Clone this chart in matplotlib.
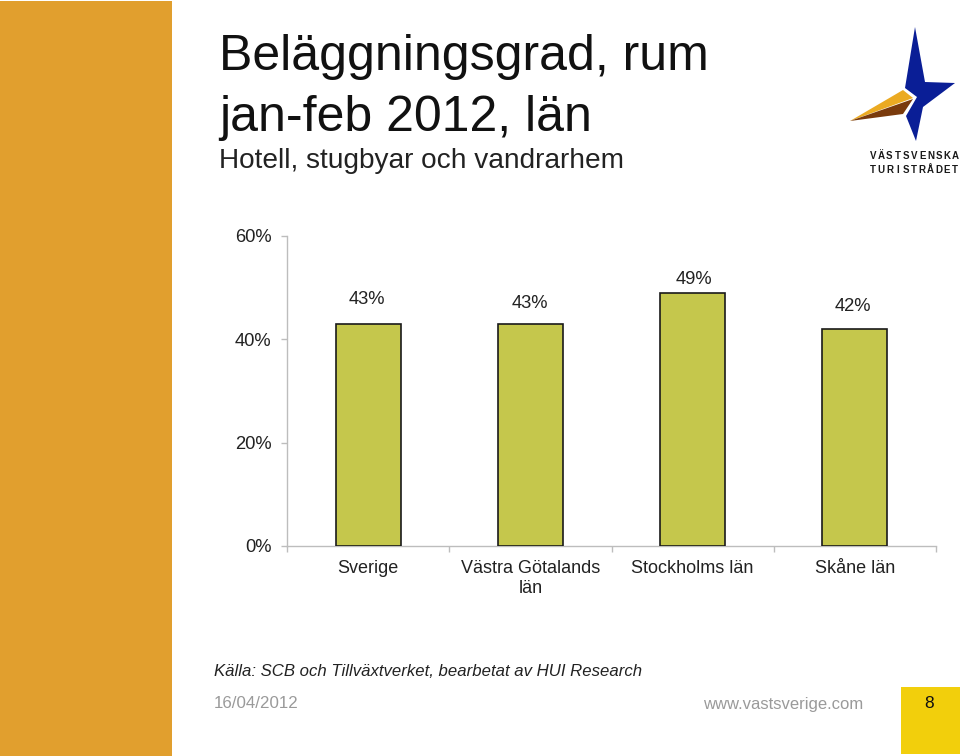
import matplotlib
matplotlib.use("Agg")
import matplotlib.pyplot as plt
from matplotlib.patches import Polygon, Rectangle

plt.rcParams['font.family'] = ['Liberation Sans', 'DejaVu Sans']

categories = ["Sverige", "Västra Götalands\nlän", "Stockholms län", "Skåne län"]
values = [43, 43, 49, 42]
value_labels = ["43%", "43%", "49%", "42%"]
y_ticks = [0, 20, 40, 60]
y_tick_labels = ["0%", "20%", "40%", "60%"]
label_offsets = [(-1, 23.3), (-0.6, 21.1), (0.8, 16), (-1.3, 22.6)]

W, H = 960, 756
fig = plt.figure(figsize=(W / 100, H / 100), dpi=100, facecolor="white")

# full-figure pixel canvas for the slide decoration
bg = fig.add_axes([0, 0, 1, 1], zorder=0)
bg.set_xlim(0, W)
bg.set_ylim(H, 0)
bg.axis("off")
bg.add_patch(Rectangle((0, 1), 172, 755, color="#E19F2E", lw=0))
bg.add_patch(Rectangle((901, 687), 59, 67, color="#F2CF0C", lw=0))

# logo
bg.add_patch(Polygon([(915, 27), (925, 82), (955, 83), (923, 107), (916, 141), (906, 116),
                      (917, 97), (905, 88)], closed=True, color="#0A1E96", lw=0))
bg.add_patch(Polygon([(850, 121), (903, 90), (913, 98)], closed=True, color="#EBAA22", lw=0))
bg.add_patch(Polygon([(850, 121), (913, 99), (903, 114)], closed=True, color="#7A3A0C", lw=0))
for word, y in (("VÄSTSVENSKA", 156), ("TURISTRÅDET", 170)):
    step = 82 / (len(word) - 1)
    for k, ch in enumerate(word):
        bg.text(873 + k * step, y, ch, fontsize=7, fontweight="bold", va="center", ha="center",
                color="#1A1A1A")

# titles
bg.text(219, 57, "Beläggningsgrad, rum", fontsize=36, va="center", ha="left", color="#111111")
bg.text(219, 118, "jan-feb 2012, län", fontsize=36, va="center", ha="left", color="#111111")
bg.text(219, 161, "Hotell, stugbyar och vandrarhem", fontsize=20.15, va="center", ha="left", color="#222222")

# chart
ax = fig.add_axes([287 / W, 1 - 546 / H, (936 - 287) / W, (546 - 236) / H], zorder=1)
ax.patch.set_alpha(0)
x = range(len(categories))
ax.bar(x, values, width=0.4, color="#C5C74C", edgecolor="#1A1A1A", linewidth=1.2, zorder=3)
ax.set_xlim(-0.5, len(categories) - 0.5)
ax.set_ylim(0, 60)
ax.set_yticks(y_ticks)
ax.set_yticklabels(y_tick_labels, fontsize=13.2, color="#222222")
ax.set_xticks([i - 0.5 for i in range(len(categories) + 1)])
ax.set_xticklabels([])
ax.tick_params(axis="both", color="#BDBDBD", width=1, length=4, direction="out")
ax.tick_params(axis="y", pad=7)
for s in ["top", "right"]:
    ax.spines[s].set_visible(False)
for s in ["left", "bottom"]:
    ax.spines[s].set_color("#BDBDBD")
    ax.spines[s].set_linewidth(1)
for i, (v, lab) in enumerate(zip(values, value_labels)):
    ax.annotate(lab, (i, v), xytext=label_offsets[i], textcoords="offset points", ha="center",
                va="top", fontsize=13.2, color="#222222", annotation_clip=False)
    ax.annotate(categories[i], (i, 0), xytext=(0, -10), textcoords="offset points", ha="center",
                va="top", fontsize=13.0, color="#222222", annotation_clip=False, linespacing=1.22)

# footer
bg.text(214, 672, "Källa: SCB och Tillväxtverket, bearbetat av HUI Research", fontsize=12.1, style="italic",
        va="center", ha="left", color="#222222")
bg.text(214, 704, "16/04/2012", fontsize=12.2, va="center", ha="left", color="#9A9A9A")
bg.text(703, 705, "www.vastsverige.com", fontsize=12, va="center", ha="left", color="#9A9A9A")
bg.text(929, 704, "8", fontsize=12.5, va="center", ha="center", color="#111111")

fig.savefig("out.png", dpi=100)
